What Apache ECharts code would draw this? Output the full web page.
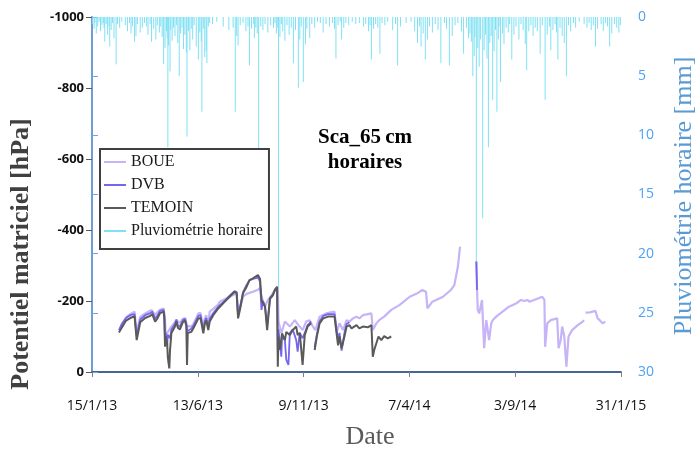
<!DOCTYPE html>
<html><head><meta charset="utf-8">
<script src="https://cdn.jsdelivr.net/npm/echarts@6/dist/echarts.min.js"></script>
<style>html,body{margin:0;padding:0;background:#fff}#c{width:699px;height:457px}</style>
</head><body><div id="c"></div>
<script>
// x tick labels (Excel date axis, 149.2-day major unit)
const xTickLabels = ['15/1/13','13/6/13','9/11/13','7/4/14','3/9/14','31/1/15'];

const boue = [
['2013-02-23',-118],['2013-02-26',-135],['2013-03-05',-156],['2013-03-10',-163],['2013-03-16',-170],['2013-03-19',-109],['2013-03-21',-130],['2013-03-24',-155],['2013-03-31',-165],['2013-04-09',-175],['2013-04-14',-160],['2013-04-17',-168],['2013-04-21',-175],['2013-04-26',-179],['2013-04-28',-150],['2013-04-29',-90],['2013-05-01',-110],['2013-05-07',-128],['2013-05-14',-146],['2013-05-19',-138],['2013-05-23',-150],['2013-05-27',-151],['2013-05-29',-118],['2013-05-30',-130],['2013-06-04',-128],['2013-06-07',-135],['2013-06-14',-165],['2013-06-17',-166],['2013-06-21',-125],['2013-06-23',-150],['2013-06-25',-160],['2013-06-28',-135],['2013-06-30',-170],['2013-07-05',-178],['2013-07-12',-190],['2013-07-14',-198],['2013-07-21',-205],['2013-07-28',-212],['2013-08-07',-222],['2013-08-09',-165],['2013-08-12',-185],['2013-08-16',-212],['2013-08-21',-220],['2013-08-30',-226],['2013-09-06',-232],['2013-09-09',-236],['2013-09-11',-212],['2013-09-16',-184],['2013-09-20',-203],['2013-09-23',-210],['2013-09-30',-231],['2013-10-04',-240],['2013-10-05',-142],['2013-10-09',-109],['2013-10-14',-142],['2013-10-21',-128],['2013-10-28',-146],['2013-11-01',-135],['2013-11-08',-118],['2013-11-13',-142],['2013-11-18',-146],['2013-11-22',-130],['2013-11-26',-118],['2013-12-02',-156],['2013-12-11',-165],['2013-12-23',-170],['2013-12-26',-112],['2013-12-30',-137],['2014-01-04',-118],['2014-01-09',-146],['2014-01-13',-142],['2014-01-18',-151],['2014-01-23',-156],['2014-01-27',-151],['2014-02-01',-160],['2014-02-13',-165],['2014-02-15',-118],['2014-02-20',-137],['2014-02-24',-146],['2014-03-03',-156],['2014-03-13',-175],['2014-03-25',-189],['2014-04-08',-212],['2014-04-10',-217],['2014-04-19',-222],['2014-04-26',-231],['2014-05-01',-226],['2014-05-03',-179],['2014-05-10',-198],['2014-05-25',-212],['2014-06-05',-231],['2014-06-10',-245],['2014-06-15',-297],['2014-06-18',-353],
null,
['2014-07-11',-311],['2014-07-12',-231],['2014-07-13',-175],['2014-07-15',-165],['2014-07-19',-203],['2014-07-22',-67],['2014-07-25',-146],['2014-07-27',-151],['2014-07-29',-90],['2014-08-01',-137],['2014-08-03',-146],['2014-08-08',-156],['2014-08-17',-170],['2014-08-26',-184],['2014-09-05',-193],['2014-09-12',-203],['2014-09-17',-200],['2014-09-21',-203],['2014-09-24',-198],['2014-10-03',-205],['2014-10-12',-212],['2014-10-15',-203],['2014-10-16',-71],['2014-10-19',-137],['2014-10-24',-146],['2014-11-02',-151],['2014-11-04',-67],['2014-11-07',-90],['2014-11-09',-128],['2014-11-12',-100],['2014-11-15',-15],['2014-11-18',-100],['2014-11-23',-118],['2014-12-01',-132],['2014-12-08',-142],['2014-12-10',-146],
null,
['2014-12-12',-167],['2014-12-18',-168],['2014-12-26',-172],['2014-12-29',-151],['2015-01-01',-146],['2015-01-05',-137],['2015-01-09',-142]
];

const dvb = [
['2013-02-22',-118],['2013-02-26',-135],['2013-03-04',-152],['2013-03-10',-160],['2013-03-16',-163],['2013-03-19',-100],['2013-03-21',-120],['2013-03-24',-148],['2013-03-31',-160],['2013-04-07',-166],['2013-04-10',-170],['2013-04-14',-150],['2013-04-17',-158],['2013-04-21',-172],['2013-04-26',-175],['2013-04-27',-160],['2013-04-28',-90],['2013-04-29',-110],['2013-05-01',-75],['2013-05-02',-105],['2013-05-05',-95],['2013-05-07',-120],['2013-05-12',-135],['2013-05-14',-148],['2013-05-16',-132],['2013-05-19',-128],['2013-05-23',-146],['2013-05-26',-150],['2013-05-28',-138],['2013-05-29',-115],['2013-05-30',-120],['2013-06-04',-122],['2013-06-07',-130],['2013-06-14',-158],['2013-06-17',-160],['2013-06-21',-118],['2013-06-23',-142],['2013-06-25',-152],['2013-06-28',-128],['2013-06-30',-150],['2013-07-05',-166],['2013-07-12',-184],['2013-07-14',-188],['2013-07-21',-200],['2013-07-28',-215],['2013-08-04',-228],['2013-08-07',-225],['2013-08-09',-160],['2013-08-12',-185],['2013-08-16',-225],['2013-08-21',-245],['2013-08-25',-258],['2013-08-30',-262],['2013-09-06',-266],['2013-09-09',-255],['2013-09-11',-175],['2013-09-13',-200],['2013-09-16',-185],['2013-09-19',-130],['2013-09-23',-205],['2013-09-27',-215],['2013-09-30',-230],['2013-10-03',-236],['2013-10-04',-60],['2013-10-05',-120],['2013-10-07',-80],['2013-10-09',-43],['2013-10-10',-100],['2013-10-14',-90],['2013-10-16',-34],['2013-10-19',-20],['2013-10-21',-110],['2013-10-25',-120],['2013-10-30',-90],['2013-11-01',-57],['2013-11-04',-110],['2013-11-08',-95],['2013-11-11',-110],['2013-11-15',-132],['2013-11-20',-142],
null,
['2013-11-25',-70],['2013-11-28',-105],['2013-12-02',-143],['2013-12-07',-158],['2013-12-14',-163],['2013-12-23',-163],['2013-12-28',-90],['2013-12-30',-110],['2014-01-02',-60],['2014-01-06',-110],['2014-01-09',-135],['2014-01-13',-140],
null,
['2014-07-11',-311],['2014-07-12',-231]
];

const temoin = [
['2013-02-22',-111],['2013-02-26',-125],['2013-03-04',-145],['2013-03-10',-152],['2013-03-16',-157],['2013-03-19',-90],['2013-03-21',-110],['2013-03-24',-140],['2013-03-31',-152],['2013-04-07',-158],['2013-04-10',-163],['2013-04-14',-142],['2013-04-17',-150],['2013-04-21',-166],['2013-04-26',-170],['2013-04-27',-150],['2013-04-28',-71],['2013-04-29',-100],['2013-05-01',-80],['2013-05-02',-40],['2013-05-04',-10],['2013-05-05',-60],['2013-05-07',-110],['2013-05-12',-128],['2013-05-14',-142],['2013-05-16',-125],['2013-05-19',-120],['2013-05-23',-140],['2013-05-26',-145],['2013-05-28',-130],['2013-05-29',-20],['2013-05-30',-110],['2013-06-04',-113],['2013-06-07',-123],['2013-06-14',-151],['2013-06-17',-152],['2013-06-21',-109],['2013-06-23',-135],['2013-06-25',-146],['2013-06-28',-118],['2013-06-30',-142],['2013-07-05',-160],['2013-07-12',-179],['2013-07-14',-184],['2013-07-21',-198],['2013-07-28',-212],['2013-08-04',-226],['2013-08-07',-222],['2013-08-09',-151],['2013-08-12',-179],['2013-08-16',-222],['2013-08-21',-240],['2013-08-25',-259],['2013-08-30',-264],['2013-09-06',-273],['2013-09-09',-262],['2013-09-11',-203],['2013-09-13',-205],['2013-09-16',-184],['2013-09-19',-118],['2013-09-23',-208],['2013-09-27',-217],['2013-09-30',-232],['2013-10-03',-240],['2013-10-04',-15],['2013-10-05',-99],['2013-10-07',-62],['2013-10-10',-109],['2013-10-14',-90],['2013-10-16',-113],['2013-10-21',-104],['2013-10-25',-118],['2013-10-30',-128],['2013-11-01',-104],['2013-11-04',-110],['2013-11-08',-20],['2013-11-11',-104],['2013-11-15',-128],['2013-11-20',-137],
null,
['2013-11-25',-62],['2013-11-28',-99],['2013-12-02',-137],['2013-12-07',-151],['2013-12-14',-156],['2013-12-23',-156],['2013-12-28',-75],['2013-12-30',-100],['2014-01-02',-67],['2014-01-06',-100],['2014-01-09',-128],['2014-01-13',-132],['2014-01-16',-123],['2014-01-23',-132],['2014-01-27',-123],['2014-02-01',-128],['2014-02-08',-126],['2014-02-13',-132],['2014-02-15',-43],['2014-02-17',-62],['2014-02-20',-81],['2014-02-23',-100],['2014-02-27',-90],['2014-03-03',-101],['2014-03-08',-95],['2014-03-13',-100]
];

// hourly rainfall peaks (mm)
const rainPeaks = [
['2013-01-21',1.4],['2013-02-02',2.1],['2013-02-09',2.5],['2013-02-18',4.0],['2013-03-16',2.1],['2013-04-09',2.1],['2013-04-26',4.0],['2013-05-02',11.0],['2013-05-05',4.6],['2013-05-18',5.0],['2013-05-29',10.1],['2013-06-02',2.8],['2013-06-11',2.5],['2013-06-14',3.6],['2013-06-19',8.0],['2013-06-23',3.4],['2013-06-26',3.9],['2013-08-05',8.0],['2013-08-09',2.4],['2013-08-25',4.1],['2013-09-01',1.8],['2013-09-07',12.5],['2013-10-02',1.4],['2013-10-05',22.8],['2013-10-26',3.9],['2013-11-02',6.0],['2013-11-09',5.5],['2013-11-18',1.8],['2013-12-07',1.3],['2013-12-25',3.5],['2014-01-02',1.9],['2014-02-13',3.6],['2014-02-25',3.1],['2014-03-22',4.1],['2014-04-19',2.2],['2014-04-24',2.5],['2014-04-30',3.6],['2014-05-22',3.9],['2014-06-03',4.1],['2014-06-23',3.1],['2014-07-06',5.0],['2014-07-11',20.7],['2014-07-20',17.0],['2014-07-28',11.0],['2014-08-03',7.0],['2014-08-09',8.0],['2014-08-14',5.5],['2014-08-30',3.6],['2014-09-20',4.5],['2014-10-09',3.1],['2014-10-16',7.0],['2014-10-24',2.8],['2014-11-03',3.6],['2014-11-15',5.0],['2014-12-26',2.5],['2015-01-15',2.5]
];
const rainSmall = [
['2013-01-16',0.6],['2013-01-18',1.0],['2013-01-19',0.5],['2013-01-23',0.8],['2013-01-25',0.4],['2013-01-27',1.2],['2013-01-29',0.7],['2013-01-31',0.5],
['2013-02-01',0.9],['2013-02-04',0.6],['2013-02-06',1.5],['2013-02-08',0.8],['2013-02-11',1.1],['2013-02-13',0.5],['2013-02-15',1.8],['2013-02-20',0.6],['2013-02-23',0.9],['2013-02-26',0.4],
['2013-03-03',0.7],['2013-03-06',1.2],['2013-03-09',0.5],['2013-03-11',1.4],['2013-03-13',0.8],['2013-03-18',1.6],['2013-03-20',0.6],['2013-03-24',1.3],['2013-03-27',0.9],['2013-03-30',0.5],
['2013-04-02',0.8],['2013-04-04',1.5],['2013-04-07',0.6],['2013-04-12',1.0],['2013-04-15',1.9],['2013-04-17',0.7],['2013-04-20',1.3],['2013-04-22',0.8],['2013-04-24',1.7],['2013-04-28',2.6],['2013-04-30',1.2],
['2013-05-01',1.8],['2013-05-03',2.4],['2013-05-06',1.1],['2013-05-08',2.0],['2013-05-10',0.9],['2013-05-12',1.6],['2013-05-14',0.7],['2013-05-16',2.2],['2013-05-20',1.4],['2013-05-22',0.9],['2013-05-24',2.7],['2013-05-26',1.5],['2013-05-28',3.0],['2013-05-31',1.2],
['2013-06-04',1.0],['2013-06-06',1.9],['2013-06-08',0.7],['2013-06-16',1.3],['2013-06-18',2.1],['2013-06-21',1.0],['2013-06-25',2.9],['2013-06-28',0.8],['2013-06-30',0.5],
['2013-07-04',0.6],['2013-07-10',0.4],['2013-07-19',0.8],['2013-07-27',1.1],
['2013-08-02',0.9],['2013-08-07',1.6],['2013-08-12',0.7],['2013-08-16',0.5],['2013-08-20',1.2],['2013-08-23',0.8],['2013-08-28',1.0],['2013-08-31',0.6],
['2013-09-03',0.9],['2013-09-05',1.4],['2013-09-10',0.8],['2013-09-13',1.1],['2013-09-16',0.6],['2013-09-20',1.3],['2013-09-24',0.7],['2013-09-28',0.9],['2013-09-30',0.5],
['2013-10-04',0.9],['2013-10-07',1.7],['2013-10-09',0.6],['2013-10-11',1.2],['2013-10-14',2.0],['2013-10-17',0.7],['2013-10-20',1.5],['2013-10-23',0.9],['2013-10-29',1.1],
['2013-11-04',1.9],['2013-11-06',0.8],['2013-11-12',2.3],['2013-11-14',1.0],['2013-11-21',0.6],['2013-11-25',0.9],['2013-11-29',0.4],
['2013-12-03',0.5],['2013-12-11',0.6],['2013-12-16',0.8],['2013-12-20',0.5],['2013-12-23',1.0],['2013-12-28',0.7],['2013-12-31',0.4],
['2014-01-05',0.9],['2014-01-08',0.5],['2014-01-12',0.7],['2014-01-17',0.4],['2014-01-22',0.6],['2014-01-27',0.5],
['2014-02-02',0.8],['2014-02-05',0.6],['2014-02-09',1.2],['2014-02-11',0.7],['2014-02-16',1.0],['2014-02-19',0.6],['2014-02-22',0.9],['2014-02-28',0.5],
['2014-03-04',0.7],['2014-03-08',0.4],['2014-03-15',1.1],['2014-03-19',0.6],['2014-03-26',0.8],
['2014-04-03',0.5],['2014-04-10',0.4],['2014-04-15',1.2],['2014-04-22',0.8],['2014-04-27',1.4],
['2014-05-03',1.9],['2014-05-06',0.8],['2014-05-10',1.3],['2014-05-14',0.6],['2014-05-18',1.1],['2014-05-27',0.5],['2014-05-30',1.0],
['2014-06-07',1.6],['2014-06-11',0.7],['2014-06-15',0.5],['2014-06-20',1.2],['2014-06-27',0.9],['2014-06-30',1.8],
['2014-07-02',1.4],['2014-07-04',2.1],['2014-07-08',3.3],['2014-07-09',1.7],['2014-07-13',2.6],['2014-07-15',4.2],['2014-07-17',1.9],['2014-07-22',2.8],['2014-07-24',1.5],['2014-07-26',3.5],['2014-07-30',2.2],
['2014-08-01',1.6],['2014-08-05',2.9],['2014-08-07',1.1],['2014-08-11',1.9],['2014-08-12',0.8],['2014-08-17',1.4],['2014-08-19',2.3],['2014-08-22',0.9],['2014-08-25',1.3],['2014-08-27',0.6],
['2014-09-02',1.5],['2014-09-05',0.8],['2014-09-09',1.9],['2014-09-12',0.6],['2014-09-15',1.1],['2014-09-18',2.3],['2014-09-23',1.2],['2014-09-26',0.7],['2014-09-29',1.6],
['2014-10-02',0.9],['2014-10-05',1.2],['2014-10-12',0.7],['2014-10-19',1.5],['2014-10-22',0.8],['2014-10-27',1.1],['2014-10-30',0.6],
['2014-11-01',1.3],['2014-11-06',0.9],['2014-11-09',1.6],['2014-11-12',2.2],['2014-11-18',0.7],['2014-11-21',1.2],['2014-11-25',0.5],['2014-11-28',0.9],
['2014-12-03',0.4],['2014-12-10',0.6],['2014-12-14',0.9],['2014-12-17',0.5],['2014-12-20',1.1],['2014-12-23',0.7],['2014-12-29',1.0],
['2015-01-03',0.6],['2015-01-06',1.2],['2015-01-09',0.5],['2015-01-12',0.8],['2015-01-18',1.4],['2015-01-22',0.6],['2015-01-25',0.9],['2015-01-28',1.3],['2015-01-30',0.7]
];

const START = Date.UTC(2013,0,15);
const DAY = 86400000;
function toDay(s){ const p=s.split('-').map(Number); return (Date.UTC(p[0],p[1]-1,p[2])-START)/DAY; }
function conv(arr){ return arr.map(p => p===null ? null : [toDay(p[0]), p[1]]); }
const rain = rainSmall.concat(rainPeaks).map(p => [toDay(p[0]), p[1]]);

const serif = "'Liberation Serif','Times New Roman',serif";
const sans = "'Open Sans','Liberation Sans',sans-serif";

const chart = echarts.init(document.getElementById('c'), null, {renderer:'canvas'});
chart.setOption({
  animation:false,
  backgroundColor:'#fff',
  grid:{left:92, right:78, top:17, bottom:85, containLabel:false},
  title:{text:'Sca_65\u2009cm\nhoraires', left:360, top:120, textAlign:'center',
    textStyle:{fontFamily:serif, fontWeight:'bold', fontSize:21, lineHeight:25, color:'#000'}},
  legend:{
    left:100, top:149, orient:'vertical', icon:'rect', itemWidth:22, itemHeight:2, itemGap:7,
    padding:[5,6,10,4], borderColor:'#404040', borderWidth:2, backgroundColor:'#fff',
    textStyle:{fontFamily:serif, fontSize:16, color:'#1a1a1a', lineHeight:16},
    data:['BOUE','DVB','TEMOIN','Pluviométrie horaire']
  },
  xAxis:[{
    type:'value', min:0, max:746, interval:149.2,
    axisLine:{show:true, onZero:false, lineStyle:{color:'#7f7f7f', width:1.5}},
    axisTick:{show:true, length:5, lineStyle:{color:'#7f7f7f'}},
    splitLine:{show:false},
    axisLabel:{margin:27, fontFamily:sans, fontSize:14, color:'#111', showMaxLabel:true, showMinLabel:true,
      formatter:function(v){ const i=Math.round(v/149.2); return xTickLabels[i]!==undefined?xTickLabels[i]:''; }}
  },{
    type:'value', min:0, max:746, position:'top',
    axisLine:{show:true, lineStyle:{color:'#2b5394', width:1.5}},
    axisTick:{show:false}, axisLabel:{show:false}, splitLine:{show:false}
  }],
  yAxis:[{
    type:'value', min:-1000, max:0, interval:200, inverse:true,
    axisLine:{show:true, onZero:false, lineStyle:{color:'#595959', width:1.5}},
    axisTick:{show:true, length:6, lineStyle:{color:'#595959'}},
    splitLine:{show:false},
    axisLabel:{margin:8, fontFamily:sans, fontWeight:'bold', fontSize:13, color:'#111',
      formatter:function(v){ return String(v); }}
  },{
    type:'value', min:0, max:30, interval:5, inverse:true, position:'right',
    axisLine:{show:true, lineStyle:{color:'#6aa6ee', width:1.5}},
    axisTick:{show:true, length:6, lineStyle:{color:'#6aa6ee'}},
    splitLine:{show:false},
    axisLabel:{margin:17, fontFamily:sans, fontSize:14, color:'#4da3f5'}
  }],
  graphic:[
    {type:'text', x:370, y:437, style:{text:'Date', font:"26px "+serif, fill:'#595959', textAlign:'center', textVerticalAlign:'middle'}},
    {type:'text', x:21, y:254, rotation:Math.PI/2, style:{text:'Potentiel matriciel [hPa]', font:"bold 26px "+serif, fill:'#404040', textAlign:'center', textVerticalAlign:'middle'}},
    {type:'text', x:684, y:196, rotation:Math.PI/2, style:{text:'Pluviométrie horaire [mm]', font:"26px "+serif, fill:'#5b9bd5', textAlign:'center', textVerticalAlign:'middle'}}
  ],
  series:[
    {name:'Pluviométrie horaire', type:'bar', xAxisIndex:0, yAxisIndex:1, data:rain, barWidth:1,
      itemStyle:{color:'#7fe1f3'}, z:1},
    {name:'BOUE', type:'line', data:conv(boue), showSymbol:false, symbol:'none', lineStyle:{color:'#c6b4f6', width:2.2}, itemStyle:{color:'#c6b4f6'}, z:2, connectNulls:false},
    {name:'DVB', type:'line', data:conv(dvb), showSymbol:false, symbol:'none', lineStyle:{color:'#7466ee', width:1.8}, itemStyle:{color:'#7466ee'}, z:3, connectNulls:false},
    {name:'TEMOIN', type:'line', data:conv(temoin), showSymbol:false, symbol:'none', lineStyle:{color:'#5a5a5a', width:2}, itemStyle:{color:'#5a5a5a'}, z:4, connectNulls:false}
  ]
});
</script>
</body></html>
